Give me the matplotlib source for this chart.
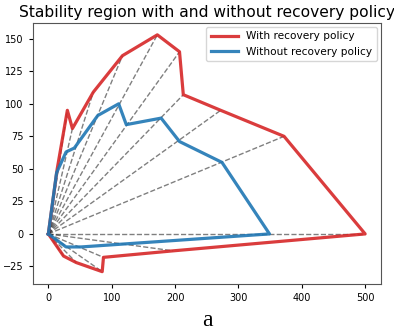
import matplotlib
matplotlib.use("Agg")
import matplotlib.pyplot as plt
import numpy as np

# Boundary of the stability region with recovery policy (x, y)
with_x = [0, 14, 30, 38, 71, 117, 172, 207, 213, 272, 372, 500, 197, 87, 85, 44, 24, 0]
with_y = [0, 50, 95, 81, 109, 137, 153, 140, 107, 95, 75, 0, -13, -18, -29, -22, -17, 0]

# Boundary of the stability region without recovery policy (x, y)
without_x = [0, 13, 28, 41, 78, 111, 123, 178, 207, 274, 349, 52, 28, 0]
without_y = [0, 47, 63, 66, 91, 100, 84, 89, 71, 55, 0, -10, -10, 0]

xticks = [0, 100, 200, 300, 400, 500]
yticks = [-25, 0, 25, 50, 75, 100, 125, 150]

fig = plt.figure(figsize=(3.94, 3.30), dpi=100)
ax = fig.add_axes([32.5/394, 1 - 283.5/330, (381 - 32.5)/394, (283.5 - 23)/330])

# dashed rays from the origin to each boundary point
for x, y in zip(with_x[1:-1], with_y[1:-1]):
    ax.plot([0, x], [0, y], linestyle='--', color='k', alpha=0.5, lw=1.0, zorder=1)

ax.plot(with_x, with_y, color='tab:red', lw=2.3, alpha=0.9, label='With recovery policy', zorder=3)
ax.plot(without_x, without_y, color='tab:blue', lw=2.3, alpha=0.9, label='Without recovery policy', zorder=3)

ax.set_xticks(xticks)
ax.set_yticks(yticks)
ax.tick_params(labelsize=7, length=3, width=0.8)
for s in ax.spines.values():
    s.set_color('#555555')

ax.set_title('Stability region with and without recovery policy', fontsize=11.2, pad=4)
ax.legend(loc='upper right', fontsize=7.6, handlelength=2.6, borderaxespad=0.4)

fig.text(207/394, 1 - 326/330, 'a', family='Liberation Serif', fontsize=17, ha='center', va='baseline')

fig.savefig('out.png', dpi=100)
